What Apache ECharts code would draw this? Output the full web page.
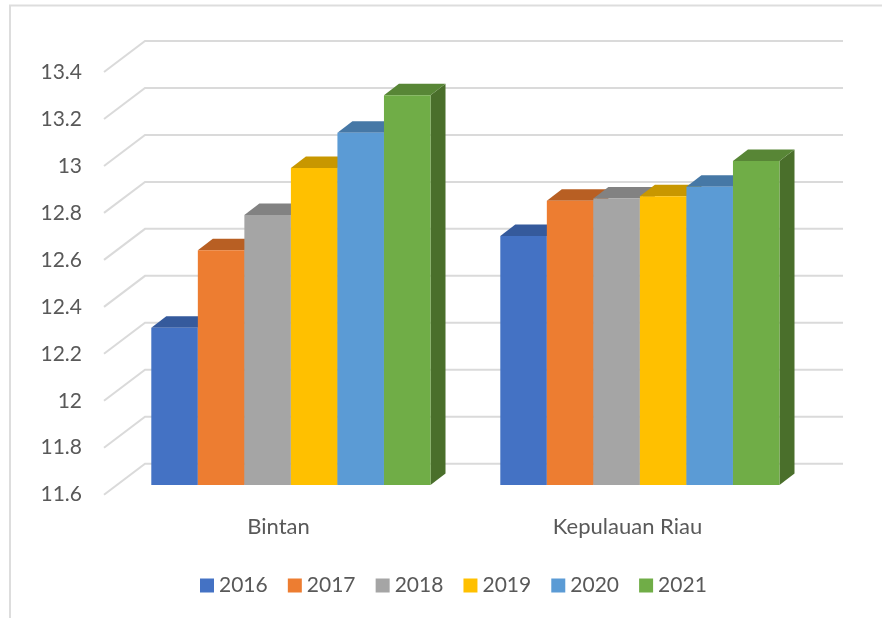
<!DOCTYPE html>
<html>
<head>
<meta charset="utf-8">
<title>Bintan dan Kepulauan Riau</title>
<script src="https://cdn.jsdelivr.net/npm/echarts@6/dist/echarts.min.js"></script>
<style>
  html, body { margin: 0; padding: 0; background: #fff; }
  #main { width: 882px; height: 618px; }
</style>
</head>
<body>
<div id="main"></div>
<script>
//data
const categories = ["Bintan", "Kepulauan Riau"];
const years = ["2016", "2017", "2018", "2019", "2020", "2021"];
const values2016 = [12.27, 12.66];
const values2017 = [12.6, 12.81];
const values2018 = [12.75, 12.82];
const values2019 = [12.95, 12.83];
const values2020 = [13.1, 12.87];
const values2021 = [13.26, 12.98];
const tickValues = [11.6, 11.8, 12, 12.2, 12.4, 12.6, 12.8, 13, 13.2, 13.4];

const yearValues = [values2016, values2017, values2018, values2019, values2020, values2021];
const frontColors = ["#4472C4", "#ED7D31", "#A5A5A5", "#FFC000", "#5B9BD5", "#70AD47"];
const topColors = ["#355A9C", "#B85F23", "#828282", "#C89700", "#4678A6", "#588636"];
const sideColors = ["#2F4F88", "#A0521E", "#707070", "#AD8200", "#3C6890", "#4A6F2B"];

//fake 3d offsets, in pixels
const wall = { dx: 41, dy: -31 }; //front plane to back wall
const barShift = { dx: 12.4, dy: -9.7 }; //front plane to front of the bars
const barDepth = { dx: 15, dy: -11.5 };

function renderGridLine(params, api) {
  let y = api.coord([0, api.value(1)])[1];
  let box = params.coordSys;
  return {
    type: "polyline",
    shape: {
      points: [
        [box.x, y],
        [box.x + wall.dx, y + wall.dy],
        [box.x + box.width + wall.dx, y + wall.dy]
      ]
    },
    style: { fill: null, stroke: "#DADADA", lineWidth: 2 }
  };
}

function renderBar(yearIndex) {
  return function(params, api) {
    let top = api.coord([api.value(0), api.value(1)]);
    let bottom = api.coord([api.value(0), 11.6]);
    let w = api.size([1, 0])[0] / 7.5; //gap width 150%
    let x0 = top[0] + (yearIndex - 3) * w + barShift.dx;
    let x1 = x0 + w;
    let y0 = top[1] + barShift.dy;
    let y1 = bottom[1] + barShift.dy;
    let dx = barDepth.dx;
    let dy = barDepth.dy;
    return {
      type: "group",
      children: [
        {
          type: "polygon",
          shape: { points: [[x1, y0], [x1 + dx, y0 + dy], [x1 + dx, y1 + dy], [x1, y1]] },
          style: { fill: sideColors[yearIndex] }
        },
        {
          type: "polygon",
          shape: { points: [[x0, y0], [x0 + dx, y0 + dy], [x1 + dx, y0 + dy], [x1, y0]] },
          style: { fill: topColors[yearIndex] }
        },
        {
          type: "rect",
          shape: { x: x0, y: y0, width: w, height: y1 - y0 },
          style: { fill: frontColors[yearIndex] }
        }
      ]
    };
  };
}

let series = [
  {
    type: "custom",
    name: "grid",
    silent: true,
    z: 1,
    renderItem: renderGridLine,
    data: tickValues.map(item => [0, item])
  }
];
years.forEach((year, i) => {
  series.push({
    type: "custom",
    name: year,
    z: 2 + i,
    itemStyle: { color: frontColors[i] },
    renderItem: renderBar(i),
    data: yearValues[i].map((item, c) => [c, item])
  });
});

let myChart = echarts.init(document.getElementById("main"));

let option = {
  animation: false,
  backgroundColor: "#fff",
  textStyle: { fontFamily: "Lato" },
  grid: { left: 104, top: 72, width: 698, height: 422.7 },
  xAxis: {
    type: "category",
    data: categories,
    axisLine: { show: false },
    axisTick: { show: false },
    axisLabel: { color: "#595959", fontSize: 22, fontFamily: "Lato", margin: 21 }
  },
  yAxis: {
    type: "value",
    min: 11.6,
    max: 13.4,
    interval: 0.2,
    axisLine: { show: false },
    axisTick: { show: false },
    splitLine: { show: false },
    axisLabel: {
      color: "#595959",
      fontSize: 21,
      fontFamily: "Lato",
      margin: 22,
      padding: [3, 0, 0, 0],
      verticalAlign: "middle",
      verticalAlignMinLabel: "middle",
      verticalAlignMaxLabel: "middle"
    }
  },
  legend: {
    data: years,
    left: 200,
    top: 575,
    padding: 0,
    itemWidth: 14,
    itemHeight: 14,
    itemGap: 20.1,
    icon: "rect",
    textStyle: { color: "#595959", fontSize: 21, fontFamily: "Lato" }
  },
  graphic: [
    {
      //outer frame of the pasted picture
      type: "polyline",
      silent: true,
      shape: { points: [[10, 618], [10, 5.5], [882, 5.5]] },
      style: { fill: null, stroke: "#DDDDDD", lineWidth: 2 }
    }
  ],
  series: series
};
myChart.setOption(option);
</script>
</body>
</html>
